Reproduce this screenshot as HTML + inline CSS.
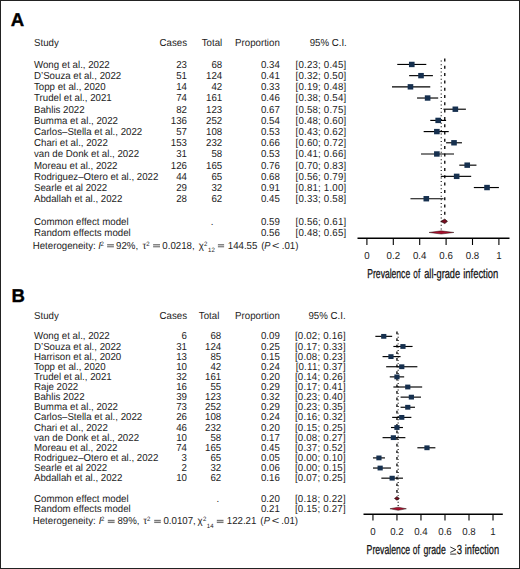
<!DOCTYPE html>
<html><head><meta charset="utf-8"><style>
html,body{margin:0;padding:0;background:#fff;}
body{width:520px;height:569px;overflow:hidden;}
svg{display:block;}
text{font-family:"Liberation Sans",sans-serif;font-size:9.7px;fill:#1c1c1c;text-rendering:geometricPrecision;}
text.it{font-style:italic;}
text.ci{letter-spacing:0.2px;}
text.lbl{font-weight:bold;font-size:18.6px;fill:#000;stroke:#000;stroke-width:0.35;}
text.ttl{fill:#111;stroke:#111;stroke-width:0.25;}
.cil{stroke:#000;stroke-width:1.15;}
.box{fill:#16304f;}
.dash{stroke:#000;stroke-width:1.3;}
.dot{stroke:#000;stroke-width:1.1;}
.diaC{fill:#7a0e22;stroke:#1a0000;stroke-width:0.7;}
.diaR{fill:#a8102e;stroke:#1a0000;stroke-width:0.45;}
.ax{stroke:#000;stroke-width:1.4;}
.tk{stroke:#000;stroke-width:1.1;}
</style></head><body>
<svg width="520" height="569" viewBox="0 0 520 569">
<rect x="0" y="0" width="520" height="569" fill="#fff"/>
<rect x="0.5" y="0.5" width="519" height="568" fill="none" stroke="#222" stroke-width="1"/>
<text class="lbl" x="10.8" y="25.8">A</text>
<text transform="translate(34.00,45.60) scale(1,1.05)">Study</text>
<text transform="translate(187.00,45.60) scale(1,1.05)" text-anchor="end">Cases</text>
<text transform="translate(222.20,45.60) scale(1,1.05)" text-anchor="end">Total</text>
<text transform="translate(279.80,45.60) scale(1,1.05)" text-anchor="end">Proportion</text>
<text transform="translate(346.80,45.60) scale(1,1.05)" text-anchor="end">95% C.I.</text>
<text transform="translate(34.00,67.80) scale(1,1.05)">Wong et al., 2022</text>
<text transform="translate(187.00,67.80) scale(1,1.05)" text-anchor="end">23</text>
<text transform="translate(222.20,67.80) scale(1,1.05)" text-anchor="end">68</text>
<text transform="translate(279.80,67.80) scale(1,1.05)" text-anchor="end">0.34</text>
<text transform="translate(346.40,67.80) scale(1,1.05)" text-anchor="end" class="ci">[0.23; 0.45]</text>
<text transform="translate(34.00,78.99) scale(1,1.05)">D’Souza et al., 2022</text>
<text transform="translate(187.00,78.99) scale(1,1.05)" text-anchor="end">51</text>
<text transform="translate(222.20,78.99) scale(1,1.05)" text-anchor="end">124</text>
<text transform="translate(279.80,78.99) scale(1,1.05)" text-anchor="end">0.41</text>
<text transform="translate(346.40,78.99) scale(1,1.05)" text-anchor="end" class="ci">[0.32; 0.50]</text>
<text transform="translate(34.00,90.18) scale(1,1.05)">Topp et al., 2020</text>
<text transform="translate(187.00,90.18) scale(1,1.05)" text-anchor="end">14</text>
<text transform="translate(222.20,90.18) scale(1,1.05)" text-anchor="end">42</text>
<text transform="translate(279.80,90.18) scale(1,1.05)" text-anchor="end">0.33</text>
<text transform="translate(346.40,90.18) scale(1,1.05)" text-anchor="end" class="ci">[0.19; 0.48]</text>
<text transform="translate(34.00,101.37) scale(1,1.05)">Trudel et al., 2021</text>
<text transform="translate(187.00,101.37) scale(1,1.05)" text-anchor="end">74</text>
<text transform="translate(222.20,101.37) scale(1,1.05)" text-anchor="end">161</text>
<text transform="translate(279.80,101.37) scale(1,1.05)" text-anchor="end">0.46</text>
<text transform="translate(346.40,101.37) scale(1,1.05)" text-anchor="end" class="ci">[0.38; 0.54]</text>
<text transform="translate(34.00,112.56) scale(1,1.05)">Bahlis 2022</text>
<text transform="translate(187.00,112.56) scale(1,1.05)" text-anchor="end">82</text>
<text transform="translate(222.20,112.56) scale(1,1.05)" text-anchor="end">123</text>
<text transform="translate(279.80,112.56) scale(1,1.05)" text-anchor="end">0.67</text>
<text transform="translate(346.40,112.56) scale(1,1.05)" text-anchor="end" class="ci">[0.58; 0.75]</text>
<text transform="translate(34.00,123.75) scale(1,1.05)">Bumma et al., 2022</text>
<text transform="translate(187.00,123.75) scale(1,1.05)" text-anchor="end">136</text>
<text transform="translate(222.20,123.75) scale(1,1.05)" text-anchor="end">252</text>
<text transform="translate(279.80,123.75) scale(1,1.05)" text-anchor="end">0.54</text>
<text transform="translate(346.40,123.75) scale(1,1.05)" text-anchor="end" class="ci">[0.48; 0.60]</text>
<text transform="translate(34.00,134.94) scale(1,1.05)">Carlos–Stella et al., 2022</text>
<text transform="translate(187.00,134.94) scale(1,1.05)" text-anchor="end">57</text>
<text transform="translate(222.20,134.94) scale(1,1.05)" text-anchor="end">108</text>
<text transform="translate(279.80,134.94) scale(1,1.05)" text-anchor="end">0.53</text>
<text transform="translate(346.40,134.94) scale(1,1.05)" text-anchor="end" class="ci">[0.43; 0.62]</text>
<text transform="translate(34.00,146.13) scale(1,1.05)">Chari et al., 2022</text>
<text transform="translate(187.00,146.13) scale(1,1.05)" text-anchor="end">153</text>
<text transform="translate(222.20,146.13) scale(1,1.05)" text-anchor="end">232</text>
<text transform="translate(279.80,146.13) scale(1,1.05)" text-anchor="end">0.66</text>
<text transform="translate(346.40,146.13) scale(1,1.05)" text-anchor="end" class="ci">[0.60; 0.72]</text>
<text transform="translate(34.00,157.32) scale(1,1.05)">van de Donk et al., 2022</text>
<text transform="translate(187.00,157.32) scale(1,1.05)" text-anchor="end">31</text>
<text transform="translate(222.20,157.32) scale(1,1.05)" text-anchor="end">58</text>
<text transform="translate(279.80,157.32) scale(1,1.05)" text-anchor="end">0.53</text>
<text transform="translate(346.40,157.32) scale(1,1.05)" text-anchor="end" class="ci">[0.41; 0.66]</text>
<text transform="translate(34.00,168.51) scale(1,1.05)">Moreau et al., 2022</text>
<text transform="translate(187.00,168.51) scale(1,1.05)" text-anchor="end">126</text>
<text transform="translate(222.20,168.51) scale(1,1.05)" text-anchor="end">165</text>
<text transform="translate(279.80,168.51) scale(1,1.05)" text-anchor="end">0.76</text>
<text transform="translate(346.40,168.51) scale(1,1.05)" text-anchor="end" class="ci">[0.70; 0.83]</text>
<text transform="translate(34.00,179.70) scale(1,1.05)">Rodriguez–Otero et al., 2022</text>
<text transform="translate(187.00,179.70) scale(1,1.05)" text-anchor="end">44</text>
<text transform="translate(222.20,179.70) scale(1,1.05)" text-anchor="end">65</text>
<text transform="translate(279.80,179.70) scale(1,1.05)" text-anchor="end">0.68</text>
<text transform="translate(346.40,179.70) scale(1,1.05)" text-anchor="end" class="ci">[0.56; 0.79]</text>
<text transform="translate(34.00,190.89) scale(1,1.05)">Searle et al 2022</text>
<text transform="translate(187.00,190.89) scale(1,1.05)" text-anchor="end">29</text>
<text transform="translate(222.20,190.89) scale(1,1.05)" text-anchor="end">32</text>
<text transform="translate(279.80,190.89) scale(1,1.05)" text-anchor="end">0.91</text>
<text transform="translate(346.40,190.89) scale(1,1.05)" text-anchor="end" class="ci">[0.81; 1.00]</text>
<text transform="translate(34.00,202.08) scale(1,1.05)">Abdallah et al., 2022</text>
<text transform="translate(187.00,202.08) scale(1,1.05)" text-anchor="end">28</text>
<text transform="translate(222.20,202.08) scale(1,1.05)" text-anchor="end">62</text>
<text transform="translate(279.80,202.08) scale(1,1.05)" text-anchor="end">0.45</text>
<text transform="translate(346.40,202.08) scale(1,1.05)" text-anchor="end" class="ci">[0.33; 0.58]</text>
<line class="dash" stroke-dasharray="3 4.3" x1="444.78" x2="444.78" y1="58.50" y2="219.15"/>
<line class="dot" stroke-dasharray="1 2.65" x1="441.22" x2="441.22" y1="60.60" y2="230.85"/>
<line class="cil" x1="397.26" x2="426.30" y1="64.45" y2="64.45"/>
<rect class="box" x="408.98" y="61.75" width="5.6" height="5.4"/>
<line class="cil" x1="409.14" x2="432.90" y1="75.64" y2="75.64"/>
<rect class="box" x="418.22" y="72.94" width="5.6" height="5.4"/>
<line class="cil" x1="391.98" x2="430.26" y1="86.83" y2="86.83"/>
<rect class="box" x="407.66" y="84.13" width="5.6" height="5.4"/>
<line class="cil" x1="417.06" x2="438.18" y1="98.02" y2="98.02"/>
<rect class="box" x="424.82" y="95.32" width="5.6" height="5.4"/>
<line class="cil" x1="443.46" x2="465.90" y1="109.21" y2="109.21"/>
<rect class="box" x="452.54" y="106.51" width="5.6" height="5.4"/>
<line class="cil" x1="430.26" x2="446.10" y1="120.40" y2="120.40"/>
<rect class="box" x="435.38" y="117.70" width="5.6" height="5.4"/>
<line class="cil" x1="423.66" x2="448.74" y1="131.59" y2="131.59"/>
<rect class="box" x="434.06" y="128.89" width="5.6" height="5.4"/>
<line class="cil" x1="446.10" x2="461.94" y1="142.78" y2="142.78"/>
<rect class="box" x="451.22" y="140.08" width="5.6" height="5.4"/>
<line class="cil" x1="421.02" x2="454.02" y1="153.97" y2="153.97"/>
<rect class="box" x="434.06" y="151.27" width="5.6" height="5.4"/>
<line class="cil" x1="459.30" x2="476.46" y1="165.16" y2="165.16"/>
<rect class="box" x="464.42" y="162.46" width="5.6" height="5.4"/>
<line class="cil" x1="440.82" x2="471.18" y1="176.35" y2="176.35"/>
<rect class="box" x="453.86" y="173.65" width="5.6" height="5.4"/>
<line class="cil" x1="473.82" x2="498.90" y1="187.54" y2="187.54"/>
<rect class="box" x="484.22" y="184.84" width="5.6" height="5.4"/>
<line class="cil" x1="410.46" x2="443.46" y1="198.73" y2="198.73"/>
<rect class="box" x="423.50" y="196.03" width="5.6" height="5.4"/>
<text transform="translate(34.00,224.70) scale(1,1.05)">Common effect model</text>
<text transform="translate(212.00,224.70) scale(1,1.05)" text-anchor="middle">.</text>
<text transform="translate(279.80,224.70) scale(1,1.05)" text-anchor="end">0.59</text>
<text transform="translate(346.40,224.70) scale(1,1.05)" text-anchor="end" class="ci">[0.56; 0.61]</text>
<text transform="translate(34.00,235.80) scale(1,1.05)">Random effects model</text>
<text transform="translate(279.80,235.80) scale(1,1.05)" text-anchor="end">0.56</text>
<text transform="translate(346.40,235.80) scale(1,1.05)" text-anchor="end" class="ci">[0.48; 0.65]</text>
<text transform="translate(32.70,248.70) scale(1,1.05)">Heterogeneity:</text>
<text transform="translate(98.22,248.70) scale(1,1.05)" class="it">I</text>
<text transform="translate(100.60,245.60) scale(1,1.05)" style="font-size:6.0px">2</text>
<rect x="107.10" y="244.10" width="6.80" height="1.25" fill="#777"/>
<rect x="107.10" y="246.10" width="6.80" height="1.25" fill="#777"/>
<rect x="107.10" y="245.35" width="6.80" height="0.75" fill="#bbb"/>
<text transform="translate(116.05,248.70) scale(1,1.05)">92%,</text>
<text transform="translate(142.56,248.70) scale(1,1.05)">τ</text>
<text transform="translate(146.20,245.60) scale(1,1.05)" style="font-size:6.0px">2</text>
<rect x="153.10" y="244.10" width="6.90" height="1.25" fill="#777"/>
<rect x="153.10" y="246.10" width="6.90" height="1.25" fill="#777"/>
<rect x="153.10" y="245.35" width="6.90" height="0.75" fill="#bbb"/>
<text transform="translate(162.32,248.70) scale(1,1.05)">0.0218,</text>
<text transform="translate(198.70,248.70) scale(1,1.05)">χ</text>
<text transform="translate(203.90,245.60) scale(1,1.05)" style="font-size:6.0px">2</text>
<text transform="translate(208.04,251.90) scale(1,1.05)" style="font-size:6.0px">12</text>
<rect x="217.90" y="244.10" width="6.20" height="1.25" fill="#777"/>
<rect x="217.90" y="246.10" width="6.20" height="1.25" fill="#777"/>
<rect x="217.90" y="245.35" width="6.20" height="0.75" fill="#bbb"/>
<text transform="translate(227.76,248.70) scale(1,1.05)">144.55</text>
<text transform="translate(261.30,248.70) scale(1,1.05)">(</text>
<text transform="translate(264.32,248.70) scale(1,1.05)" class="it" textLength="6.14" lengthAdjust="spacingAndGlyphs">P</text>
<text transform="translate(272.07,248.70) scale(1,1.05)" textLength="7.45" lengthAdjust="spacingAndGlyphs">&lt;</text>
<text transform="translate(281.71,248.70) scale(1,1.05)">.01)</text>
<polygon class="diaC" points="440.82,221.35 444.78,219.15 447.42,221.35 444.78,223.55"/>
<polygon class="diaR" points="429.06,232.45 441.22,230.85 453.90,232.45 441.22,234.05"/>
<line class="ax" x1="357.5" x2="509.5" y1="238.3" y2="238.3"/>
<line class="tk" x1="366.90" x2="366.90" y1="238.3" y2="245"/>
<text transform="translate(366.90,258.80) scale(1,1.05)" text-anchor="middle">0</text>
<line class="tk" x1="393.30" x2="393.30" y1="238.3" y2="245"/>
<text transform="translate(393.30,258.80) scale(1,1.05)" text-anchor="middle">0.2</text>
<line class="tk" x1="419.70" x2="419.70" y1="238.3" y2="245"/>
<text transform="translate(419.70,258.80) scale(1,1.05)" text-anchor="middle">0.4</text>
<line class="tk" x1="446.10" x2="446.10" y1="238.3" y2="245"/>
<text transform="translate(446.10,258.80) scale(1,1.05)" text-anchor="middle">0.6</text>
<line class="tk" x1="472.50" x2="472.50" y1="238.3" y2="245"/>
<text transform="translate(472.50,258.80) scale(1,1.05)" text-anchor="middle">0.8</text>
<line class="tk" x1="498.90" x2="498.90" y1="238.3" y2="245"/>
<text transform="translate(498.90,258.80) scale(1,1.05)" text-anchor="middle">1</text>
<text transform="translate(367.30,278.20) scale(1,1.05)" class="ttl" style="font-size:12.4px" textLength="42.88" lengthAdjust="spacingAndGlyphs">Prevalence</text>
<text transform="translate(413.36,278.20) scale(1,1.05)" class="ttl" style="font-size:12.4px" textLength="6.83" lengthAdjust="spacingAndGlyphs">of</text>
<text transform="translate(424.21,278.20) scale(1,1.05)" class="ttl" style="font-size:12.4px" textLength="35.90" lengthAdjust="spacingAndGlyphs">all-grade</text>
<text transform="translate(463.17,278.20) scale(1,1.05)" class="ttl" style="font-size:12.4px" textLength="35.14" lengthAdjust="spacingAndGlyphs">infection</text>
<text class="lbl" x="11.5" y="301.7">B</text>
<text transform="translate(34.00,319.20) scale(1,1.05)">Study</text>
<text transform="translate(187.00,319.20) scale(1,1.05)" text-anchor="end">Cases</text>
<text transform="translate(219.30,319.20) scale(1,1.05)" text-anchor="end">Total</text>
<text transform="translate(279.80,319.20) scale(1,1.05)" text-anchor="end">Proportion</text>
<text transform="translate(345.60,319.20) scale(1,1.05)" text-anchor="end">95% C.I.</text>
<text transform="translate(34.00,339.40) scale(1,1.05)">Wong et al., 2022</text>
<text transform="translate(187.00,339.40) scale(1,1.05)" text-anchor="end">6</text>
<text transform="translate(221.20,339.40) scale(1,1.05)" text-anchor="end">68</text>
<text transform="translate(279.80,339.40) scale(1,1.05)" text-anchor="end">0.09</text>
<text transform="translate(345.80,339.40) scale(1,1.05)" text-anchor="end" class="ci">[0.02; 0.16]</text>
<text transform="translate(34.00,349.53) scale(1,1.05)">D’Souza et al., 2022</text>
<text transform="translate(187.00,349.53) scale(1,1.05)" text-anchor="end">31</text>
<text transform="translate(221.20,349.53) scale(1,1.05)" text-anchor="end">124</text>
<text transform="translate(279.80,349.53) scale(1,1.05)" text-anchor="end">0.25</text>
<text transform="translate(345.80,349.53) scale(1,1.05)" text-anchor="end" class="ci">[0.17; 0.33]</text>
<text transform="translate(34.00,359.66) scale(1,1.05)">Harrison et al., 2020</text>
<text transform="translate(187.00,359.66) scale(1,1.05)" text-anchor="end">13</text>
<text transform="translate(221.20,359.66) scale(1,1.05)" text-anchor="end">85</text>
<text transform="translate(279.80,359.66) scale(1,1.05)" text-anchor="end">0.15</text>
<text transform="translate(345.80,359.66) scale(1,1.05)" text-anchor="end" class="ci">[0.08; 0.23]</text>
<text transform="translate(34.00,369.79) scale(1,1.05)">Topp et al., 2020</text>
<text transform="translate(187.00,369.79) scale(1,1.05)" text-anchor="end">10</text>
<text transform="translate(221.20,369.79) scale(1,1.05)" text-anchor="end">42</text>
<text transform="translate(279.80,369.79) scale(1,1.05)" text-anchor="end">0.24</text>
<text transform="translate(345.80,369.79) scale(1,1.05)" text-anchor="end" class="ci">[0.11; 0.37]</text>
<text transform="translate(34.00,379.92) scale(1,1.05)">Trudel et al., 2021</text>
<text transform="translate(187.00,379.92) scale(1,1.05)" text-anchor="end">32</text>
<text transform="translate(221.20,379.92) scale(1,1.05)" text-anchor="end">161</text>
<text transform="translate(279.80,379.92) scale(1,1.05)" text-anchor="end">0.20</text>
<text transform="translate(345.80,379.92) scale(1,1.05)" text-anchor="end" class="ci">[0.14; 0.26]</text>
<text transform="translate(34.00,390.05) scale(1,1.05)">Raje 2022</text>
<text transform="translate(187.00,390.05) scale(1,1.05)" text-anchor="end">16</text>
<text transform="translate(221.20,390.05) scale(1,1.05)" text-anchor="end">55</text>
<text transform="translate(279.80,390.05) scale(1,1.05)" text-anchor="end">0.29</text>
<text transform="translate(345.80,390.05) scale(1,1.05)" text-anchor="end" class="ci">[0.17; 0.41]</text>
<text transform="translate(34.00,400.18) scale(1,1.05)">Bahlis 2022</text>
<text transform="translate(187.00,400.18) scale(1,1.05)" text-anchor="end">39</text>
<text transform="translate(221.20,400.18) scale(1,1.05)" text-anchor="end">123</text>
<text transform="translate(279.80,400.18) scale(1,1.05)" text-anchor="end">0.32</text>
<text transform="translate(345.80,400.18) scale(1,1.05)" text-anchor="end" class="ci">[0.23; 0.40]</text>
<text transform="translate(34.00,410.31) scale(1,1.05)">Bumma et al., 2022</text>
<text transform="translate(187.00,410.31) scale(1,1.05)" text-anchor="end">73</text>
<text transform="translate(221.20,410.31) scale(1,1.05)" text-anchor="end">252</text>
<text transform="translate(279.80,410.31) scale(1,1.05)" text-anchor="end">0.29</text>
<text transform="translate(345.80,410.31) scale(1,1.05)" text-anchor="end" class="ci">[0.23; 0.35]</text>
<text transform="translate(34.00,420.44) scale(1,1.05)">Carlos–Stella et al., 2022</text>
<text transform="translate(187.00,420.44) scale(1,1.05)" text-anchor="end">26</text>
<text transform="translate(221.20,420.44) scale(1,1.05)" text-anchor="end">108</text>
<text transform="translate(279.80,420.44) scale(1,1.05)" text-anchor="end">0.24</text>
<text transform="translate(345.80,420.44) scale(1,1.05)" text-anchor="end" class="ci">[0.16; 0.32]</text>
<text transform="translate(34.00,430.57) scale(1,1.05)">Chari et al., 2022</text>
<text transform="translate(187.00,430.57) scale(1,1.05)" text-anchor="end">46</text>
<text transform="translate(221.20,430.57) scale(1,1.05)" text-anchor="end">232</text>
<text transform="translate(279.80,430.57) scale(1,1.05)" text-anchor="end">0.20</text>
<text transform="translate(345.80,430.57) scale(1,1.05)" text-anchor="end" class="ci">[0.15; 0.25]</text>
<text transform="translate(34.00,440.70) scale(1,1.05)">van de Donk et al., 2022</text>
<text transform="translate(187.00,440.70) scale(1,1.05)" text-anchor="end">10</text>
<text transform="translate(221.20,440.70) scale(1,1.05)" text-anchor="end">58</text>
<text transform="translate(279.80,440.70) scale(1,1.05)" text-anchor="end">0.17</text>
<text transform="translate(345.80,440.70) scale(1,1.05)" text-anchor="end" class="ci">[0.08; 0.27]</text>
<text transform="translate(34.00,450.83) scale(1,1.05)">Moreau et al., 2022</text>
<text transform="translate(187.00,450.83) scale(1,1.05)" text-anchor="end">74</text>
<text transform="translate(221.20,450.83) scale(1,1.05)" text-anchor="end">165</text>
<text transform="translate(279.80,450.83) scale(1,1.05)" text-anchor="end">0.45</text>
<text transform="translate(345.80,450.83) scale(1,1.05)" text-anchor="end" class="ci">[0.37; 0.52]</text>
<text transform="translate(34.00,460.96) scale(1,1.05)">Rodriguez–Otero et al., 2022</text>
<text transform="translate(187.00,460.96) scale(1,1.05)" text-anchor="end">3</text>
<text transform="translate(221.20,460.96) scale(1,1.05)" text-anchor="end">65</text>
<text transform="translate(279.80,460.96) scale(1,1.05)" text-anchor="end">0.05</text>
<text transform="translate(345.80,460.96) scale(1,1.05)" text-anchor="end" class="ci">[0.00; 0.10]</text>
<text transform="translate(34.00,471.09) scale(1,1.05)">Searle et al 2022</text>
<text transform="translate(187.00,471.09) scale(1,1.05)" text-anchor="end">2</text>
<text transform="translate(221.20,471.09) scale(1,1.05)" text-anchor="end">32</text>
<text transform="translate(279.80,471.09) scale(1,1.05)" text-anchor="end">0.06</text>
<text transform="translate(345.80,471.09) scale(1,1.05)" text-anchor="end" class="ci">[0.00; 0.15]</text>
<text transform="translate(34.00,481.22) scale(1,1.05)">Abdallah et al., 2022</text>
<text transform="translate(187.00,481.22) scale(1,1.05)" text-anchor="end">10</text>
<text transform="translate(221.20,481.22) scale(1,1.05)" text-anchor="end">62</text>
<text transform="translate(279.80,481.22) scale(1,1.05)" text-anchor="end">0.16</text>
<text transform="translate(345.80,481.22) scale(1,1.05)" text-anchor="end" class="ci">[0.07; 0.25]</text>
<line class="dash" stroke-dasharray="2.7 3.9" x1="396.96" x2="396.96" y1="331.60" y2="496.75"/>
<line class="dot" stroke-dasharray="0.9 2.4" x1="398.16" x2="398.16" y1="333.50" y2="507.15"/>
<line class="cil" x1="375.35" x2="392.16" y1="336.35" y2="336.35"/>
<rect class="box" x="381.16" y="333.95" width="5.2" height="4.8"/>
<line class="cil" x1="393.36" x2="412.57" y1="346.48" y2="346.48"/>
<rect class="box" x="400.36" y="344.08" width="5.2" height="4.8"/>
<line class="cil" x1="382.55" x2="400.56" y1="356.61" y2="356.61"/>
<rect class="box" x="388.36" y="354.21" width="5.2" height="4.8"/>
<line class="cil" x1="386.16" x2="417.37" y1="366.74" y2="366.74"/>
<rect class="box" x="399.16" y="364.34" width="5.2" height="4.8"/>
<line class="cil" x1="389.76" x2="404.17" y1="376.87" y2="376.87"/>
<rect class="box" x="394.36" y="374.47" width="5.2" height="4.8"/>
<line class="cil" x1="393.36" x2="422.17" y1="387.00" y2="387.00"/>
<rect class="box" x="405.17" y="384.60" width="5.2" height="4.8"/>
<line class="cil" x1="400.56" x2="420.97" y1="397.13" y2="397.13"/>
<rect class="box" x="408.77" y="394.73" width="5.2" height="4.8"/>
<line class="cil" x1="400.56" x2="414.97" y1="407.26" y2="407.26"/>
<rect class="box" x="405.17" y="404.86" width="5.2" height="4.8"/>
<line class="cil" x1="392.16" x2="411.37" y1="417.39" y2="417.39"/>
<rect class="box" x="399.16" y="414.99" width="5.2" height="4.8"/>
<line class="cil" x1="390.96" x2="402.96" y1="427.52" y2="427.52"/>
<rect class="box" x="394.36" y="425.12" width="5.2" height="4.8"/>
<line class="cil" x1="382.55" x2="405.37" y1="437.65" y2="437.65"/>
<rect class="box" x="390.76" y="435.25" width="5.2" height="4.8"/>
<line class="cil" x1="417.37" x2="435.38" y1="447.78" y2="447.78"/>
<rect class="box" x="424.38" y="445.38" width="5.2" height="4.8"/>
<line class="cil" x1="372.95" x2="384.96" y1="457.91" y2="457.91"/>
<rect class="box" x="376.35" y="455.51" width="5.2" height="4.8"/>
<line class="cil" x1="372.95" x2="390.96" y1="468.04" y2="468.04"/>
<rect class="box" x="377.55" y="465.64" width="5.2" height="4.8"/>
<line class="cil" x1="381.35" x2="402.96" y1="478.17" y2="478.17"/>
<rect class="box" x="389.56" y="475.77" width="5.2" height="4.8"/>
<text transform="translate(34.00,501.50) scale(1,1.05)">Common effect model</text>
<text transform="translate(217.80,501.50) scale(1,1.05)" text-anchor="middle">.</text>
<text transform="translate(279.80,501.50) scale(1,1.05)" text-anchor="end">0.20</text>
<text transform="translate(345.80,501.50) scale(1,1.05)" text-anchor="end" class="ci">[0.18; 0.22]</text>
<text transform="translate(34.00,511.80) scale(1,1.05)">Random effects model</text>
<text transform="translate(279.80,511.80) scale(1,1.05)" text-anchor="end">0.21</text>
<text transform="translate(345.80,511.80) scale(1,1.05)" text-anchor="end" class="ci">[0.15; 0.27]</text>
<text transform="translate(32.70,524.40) scale(1,1.05)">Heterogeneity:</text>
<text transform="translate(98.72,524.40) scale(1,1.05)" class="it">I</text>
<text transform="translate(100.90,521.30) scale(1,1.05)" style="font-size:6.0px">2</text>
<rect x="107.80" y="519.80" width="6.80" height="1.25" fill="#777"/>
<rect x="107.80" y="521.80" width="6.80" height="1.25" fill="#777"/>
<rect x="107.80" y="521.05" width="6.80" height="0.75" fill="#bbb"/>
<text transform="translate(117.38,524.40) scale(1,1.05)">89%,</text>
<text transform="translate(143.36,524.40) scale(1,1.05)">τ</text>
<text transform="translate(147.00,521.30) scale(1,1.05)" style="font-size:6.0px">2</text>
<rect x="154.20" y="519.80" width="6.60" height="1.25" fill="#777"/>
<rect x="154.20" y="521.80" width="6.60" height="1.25" fill="#777"/>
<rect x="154.20" y="521.05" width="6.60" height="0.75" fill="#bbb"/>
<text transform="translate(163.42,524.40) scale(1,1.05)">0.0107,</text>
<text transform="translate(197.50,524.40) scale(1,1.05)">χ</text>
<text transform="translate(203.00,521.30) scale(1,1.05)" style="font-size:6.0px">2</text>
<text transform="translate(206.84,527.60) scale(1,1.05)" style="font-size:6.0px">14</text>
<rect x="216.80" y="519.80" width="6.70" height="1.25" fill="#777"/>
<rect x="216.80" y="521.80" width="6.70" height="1.25" fill="#777"/>
<rect x="216.80" y="521.05" width="6.70" height="0.75" fill="#bbb"/>
<text transform="translate(226.76,524.40) scale(1,1.05)">122.21</text>
<text transform="translate(260.30,524.40) scale(1,1.05)">(</text>
<text transform="translate(263.72,524.40) scale(1,1.05)" class="it" textLength="6.14" lengthAdjust="spacingAndGlyphs">P</text>
<text transform="translate(271.66,524.40) scale(1,1.05)" textLength="7.57" lengthAdjust="spacingAndGlyphs">&lt;</text>
<text transform="translate(281.31,524.40) scale(1,1.05)">.01)</text>
<polygon class="diaC" points="394.56,498.45 396.96,496.75 399.36,498.45 396.96,500.15"/>
<polygon class="diaR" points="389.96,508.75 398.16,507.15 406.37,508.75 398.16,510.35"/>
<line class="ax" x1="363.5" x2="502.8" y1="514.2" y2="514.2"/>
<line class="tk" x1="372.95" x2="372.95" y1="514.2" y2="520.5"/>
<text transform="translate(372.95,534.50) scale(1,1.05)" text-anchor="middle">0</text>
<line class="tk" x1="396.96" x2="396.96" y1="514.2" y2="520.5"/>
<text transform="translate(396.96,534.50) scale(1,1.05)" text-anchor="middle">0.2</text>
<line class="tk" x1="420.97" x2="420.97" y1="514.2" y2="520.5"/>
<text transform="translate(420.97,534.50) scale(1,1.05)" text-anchor="middle">0.4</text>
<line class="tk" x1="444.99" x2="444.99" y1="514.2" y2="520.5"/>
<text transform="translate(444.99,534.50) scale(1,1.05)" text-anchor="middle">0.6</text>
<line class="tk" x1="469.00" x2="469.00" y1="514.2" y2="520.5"/>
<text transform="translate(469.00,534.50) scale(1,1.05)" text-anchor="middle">0.8</text>
<line class="tk" x1="493.01" x2="493.01" y1="514.2" y2="520.5"/>
<text transform="translate(493.01,534.50) scale(1,1.05)" text-anchor="middle">1</text>
<text transform="translate(366.59,554.20) scale(1,1.05)" class="ttl" style="font-size:12.4px" textLength="43.50" lengthAdjust="spacingAndGlyphs">Prevalence</text>
<text transform="translate(412.75,554.20) scale(1,1.05)" class="ttl" style="font-size:12.4px" textLength="7.04" lengthAdjust="spacingAndGlyphs">of</text>
<text transform="translate(423.43,554.20) scale(1,1.05)" class="ttl" style="font-size:12.4px" textLength="22.36" lengthAdjust="spacingAndGlyphs">grade</text>
<text transform="translate(456.64,554.20) scale(1,1.05)" class="ttl" style="font-size:12.4px" textLength="5.28" lengthAdjust="spacingAndGlyphs">3</text>
<text transform="translate(464.78,554.20) scale(1,1.05)" class="ttl" style="font-size:12.4px" textLength="34.31" lengthAdjust="spacingAndGlyphs">infection</text>
<path d="M450.3,547 L455.9,549.7 L450.3,552.4 M450.2,554.1 L456.3,554.1" fill="none" stroke="#222" stroke-width="0.95"/>
</svg>
</body></html>
